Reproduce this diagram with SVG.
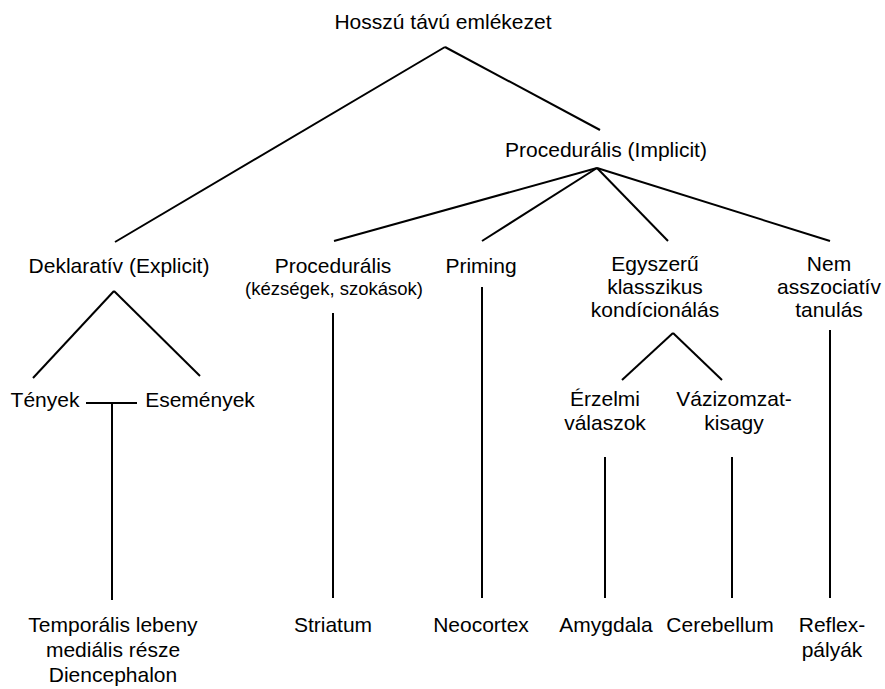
<svg xmlns="http://www.w3.org/2000/svg" width="885" height="689" viewBox="0 0 885 689">
<style>
text{font-family:"Liberation Sans",Arial,sans-serif;font-size:21px;fill:#000;text-anchor:middle}
.s{font-size:18.5px}
line{stroke:#000;stroke-width:2;fill:none}
</style>
<rect width="885" height="689" fill="#fff"/>
<g id="connectors">
<line x1="445" y1="47" x2="115" y2="242"/>
<line x1="445" y1="47" x2="600" y2="130"/>
<line x1="597" y1="168" x2="334" y2="241"/>
<line x1="597" y1="168" x2="482" y2="241"/>
<line x1="597" y1="168" x2="668" y2="241"/>
<line x1="597" y1="168" x2="830" y2="241"/>
<line x1="114" y1="291" x2="33" y2="378"/>
<line x1="114" y1="291" x2="200" y2="376"/>
<line x1="86" y1="403" x2="137" y2="403"/>
<line x1="112" y1="403" x2="112" y2="600"/>
<line x1="333" y1="313" x2="333" y2="598"/>
<line x1="482" y1="287" x2="482" y2="598"/>
<line x1="673" y1="333" x2="622" y2="380"/>
<line x1="673" y1="333" x2="722" y2="380"/>
<line x1="830" y1="330" x2="830" y2="598"/>
<line x1="605" y1="457" x2="605" y2="598"/>
<line x1="732" y1="457" x2="732" y2="598"/>
</g>
<g id="n-root"><text x="443" y="29">Hosszú távú emlékezet</text></g>
<g id="n-implicit"><text x="606" y="157">Procedurális (Implicit)</text></g>
<g id="n-explicit"><text x="119" y="273">Deklaratív (Explicit)</text></g>
<g id="n-procedural"><text x="333" y="273">Procedurális</text><text class="s" x="334" y="295">(kézségek, szokások)</text></g>
<g id="n-priming"><text x="481" y="273">Priming</text></g>
<g id="n-conditioning"><text x="655" y="271">Egyszerű</text><text x="655" y="294">klasszikus</text><text x="655" y="317">kondícionálás</text></g>
<g id="n-nonassoc"><text x="829" y="271">Nem</text><text x="829" y="294">asszociatív</text><text x="829" y="317">tanulás</text></g>
<g id="n-facts"><text x="45" y="407">Tények</text></g>
<g id="n-events"><text x="200" y="407">Események</text></g>
<g id="n-emotional"><text x="605" y="406">Érzelmi</text><text x="605" y="430">válaszok</text></g>
<g id="n-skeletal"><text x="734" y="406">Vázizomzat-</text><text x="734" y="430">kisagy</text></g>
<g id="n-temporal"><text x="113" y="632">Temporális lebeny</text><text x="113" y="657">mediális része</text><text x="113" y="682">Diencephalon</text></g>
<g id="n-striatum"><text x="333" y="632">Striatum</text></g>
<g id="n-neocortex"><text x="481" y="632">Neocortex</text></g>
<g id="n-amygdala"><text x="606" y="632">Amygdala</text></g>
<g id="n-cerebellum"><text x="720" y="632">Cerebellum</text></g>
<g id="n-reflex"><text x="832" y="632">Reflex-</text><text x="832" y="657">pályák</text></g>
</svg>
